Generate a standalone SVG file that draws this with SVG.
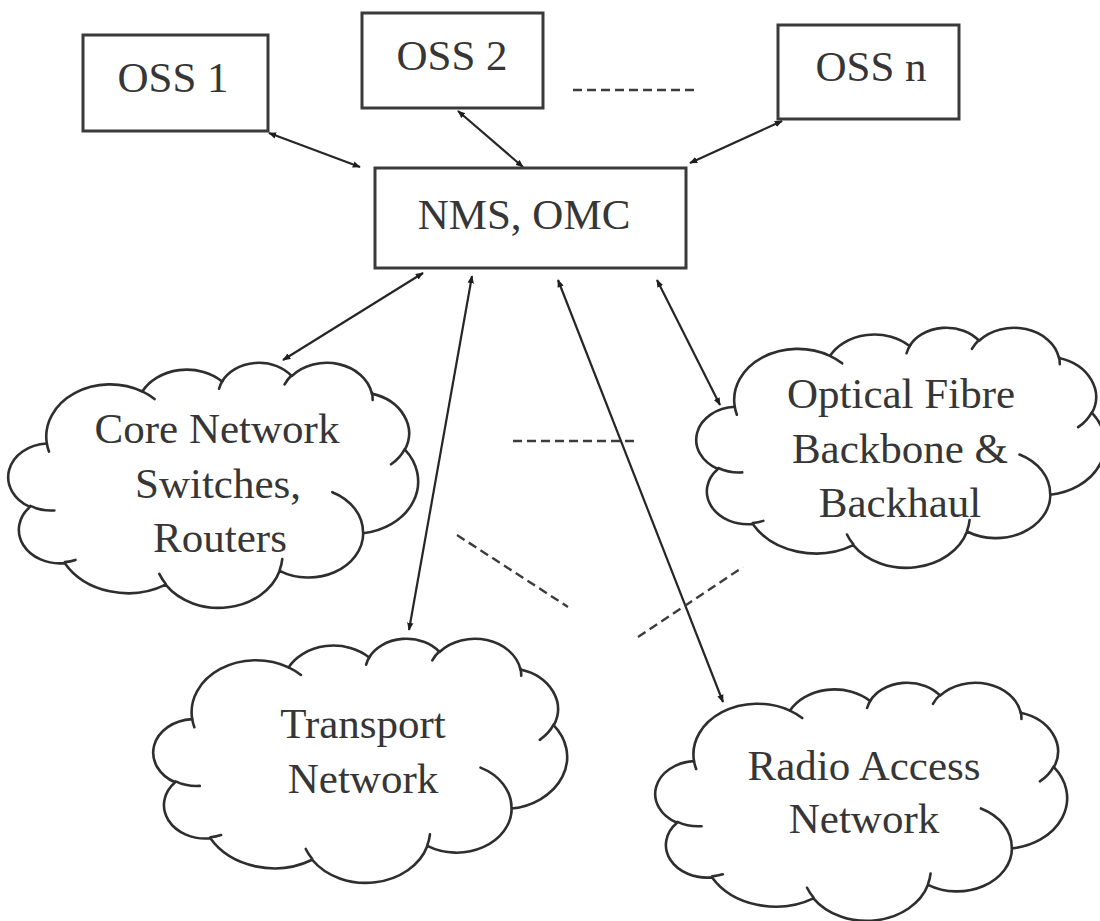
<svg xmlns="http://www.w3.org/2000/svg" xmlns:xlink="http://www.w3.org/1999/xlink" width="1100" height="921" viewBox="0 0 1100 921">
  <style>
    .box { fill: #ffffff; stroke: #3a3a3a; stroke-width: 3; }
    .cloud { fill: #ffffff; stroke: #2e2e2e; stroke-width: 2.6; stroke-linejoin: round; }
    .crease { fill: none; stroke: #2e2e2e; stroke-width: 2.6; stroke-linecap: round; }
    .label { font-family: "Liberation Serif", "Times New Roman", serif; font-size: 43px; fill: #363636; text-anchor: middle; }
    .link { stroke: #262626; stroke-width: 2.2; fill: none; marker-start: url(#head); marker-end: url(#head); }
    .dash { stroke: #3c3c3c; stroke-width: 2.4; fill: none; stroke-dasharray: 9 5; }
  </style>
  <defs>
    <marker id="head" viewBox="0 0 10 10" refX="9" refY="5" markerWidth="8" markerHeight="8" markerUnits="userSpaceOnUse" orient="auto-start-reverse">
      <path d="M0,1 L10,5 L0,9 z" fill="#1e1e1e"/>
    </marker>
    <!-- cloud outline in a 1000 x 1000 box; scaled per instance -->
    <g id="cloudShape">
      <path class="cloud" vector-effect="non-scaling-stroke" d="M90.3 332.6 A156.3 212.7 0 0 1 324.2 120.4 A123.4 168.2 0 0 1 519.8 79.5 A101.0 137.6 0 0 1 690.6 57.4 A112.4 152.7 0 0 1 887.0 129.1 A123.4 168.4 0 0 1 968.0 357.9 A156.8 213.4 0 0 1 865.8 699.1 A133.9 182.1 0 0 1 661.0 852.2 A156.3 213.3 0 0 1 381.5 908.9 A178.7 244.1 0 0 1 134.4 821.0 A100.9 137.0 0 0 1 48.9 591.4 A100.6 137.6 0 0 1 90.3 332.6 Z"/>
      <path class="crease" vector-effect="non-scaling-stroke" d="M108.6 605.9 A100.6 137.6 0 0 1 50.0 587.5 M160.4 807.8 A100.9 137.0 0 0 1 134.7 816.7 M381.4 904.9 A156.3 213.3 0 0 1 366.0 864.6 M667.3 804.4 A156.3 213.3 0 0 1 661.1 848.6 M790.0 531.3 A133.9 182.1 0 0 1 865.3 696.5 M967.5 355.4 A123.4 168.4 0 0 1 934.0 417.4 M887.1 125.6 A112.4 152.7 0 0 1 888.9 154.9 M673.1 91.5 A112.4 152.7 0 0 1 690.3 54.1 M512.5 109.3 A101.0 137.6 0 0 1 521.7 74.7 M324.1 120.2 A156.3 212.7 0 0 1 354.2 151.4 M95.5 365.5 A156.3 212.7 0 0 1 90.3 332.6"/>
    </g>
  </defs>

  <rect width="1100" height="921" fill="#ffffff"/>

  <!-- connectors -->
  <g id="connectors">
    <line class="link" x1="269" y1="133" x2="360" y2="167"/>
    <line class="link" x1="458" y1="111" x2="523" y2="167"/>
    <line class="link" x1="782" y1="121" x2="690" y2="163"/>
    <line class="link" x1="423" y1="273" x2="283" y2="360"/>
    <line class="link" x1="472" y1="276" x2="409" y2="630"/>
    <line class="link" x1="558" y1="280" x2="723" y2="702"/>
    <line class="link" x1="657" y1="280" x2="720" y2="405"/>
    <line class="dash" x1="573" y1="90" x2="697" y2="90"/>
    <line class="dash" x1="513" y1="441" x2="635" y2="441"/>
    <line class="dash" x1="457" y1="535" x2="568" y2="607"/>
    <line class="dash" x1="638" y1="637" x2="743" y2="567"/>
  </g>

  <g id="oss1">
    <rect class="box" x="83" y="35" width="185" height="96"/>
    <text class="label" x="173" y="92">OSS 1</text>
  </g>
  <g id="oss2">
    <rect class="box" x="362" y="13" width="181" height="95"/>
    <text class="label" x="452" y="70">OSS 2</text>
  </g>
  <g id="ossn">
    <rect class="box" x="778" y="25" width="181" height="94"/>
    <text class="label" x="871" y="81">OSS n</text>
  </g>
  <g id="nms">
    <rect class="box" x="375" y="168" width="311" height="100"/>
    <text class="label" x="524" y="229">NMS, OMC</text>
  </g>

  <g id="core">
    <use xlink:href="#cloudShape" href="#cloudShape" transform="translate(10 362) scale(0.408 0.245)"/>
    <text class="label" x="217" y="443">Core Network</text>
    <text class="label" x="218" y="498">Switches,</text>
    <text class="label" x="220" y="552">Routers</text>
  </g>
  <g id="optical">
    <use xlink:href="#cloudShape" href="#cloudShape" transform="translate(698 327) scale(0.407 0.240)"/>
    <text class="label" x="901" y="408">Optical Fibre</text>
    <text class="label" x="900" y="463">Backbone &amp;</text>
    <text class="label" x="900" y="517">Backhaul</text>
  </g>
  <g id="transport">
    <use xlink:href="#cloudShape" href="#cloudShape" transform="translate(155 638) scale(0.412 0.244)"/>
    <text class="label" x="363" y="738">Transport</text>
    <text class="label" x="363" y="793">Network</text>
  </g>
  <g id="ran">
    <use xlink:href="#cloudShape" href="#cloudShape" transform="translate(657 682) scale(0.410 0.238)"/>
    <text class="label" x="864" y="780">Radio Access</text>
    <text class="label" x="864" y="833">Network</text>
  </g>
</svg>
